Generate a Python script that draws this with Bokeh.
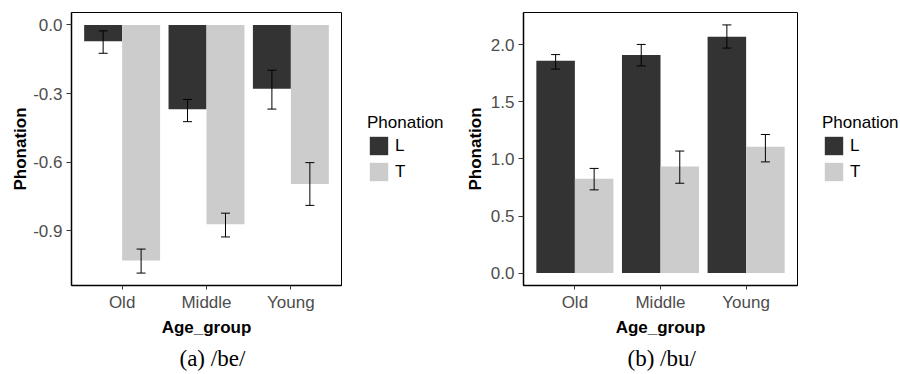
from bokeh.plotting import figure
from bokeh.layouts import row
from bokeh.models import (ColumnDataSource, Whisker, TeeHead, FixedTicker,
                          NumeralTickFormatter, Legend, LegendItem, Title, Range1d)
from bokeh.embed import file_html
from bokeh.resources import INLINE

# ---------------- data ----------------
age_groups = ["Old", "Middle", "Young"]
phonation_levels = ["L", "T"]

# (a) /be/
be_L = [-0.071, -0.369, -0.279]
be_L_upper = [-0.026, -0.326, -0.198]
be_L_lower = [-0.124, -0.423, -0.368]
be_T = [-1.030, -0.872, -0.696]
be_T_upper = [-0.980, -0.823, -0.602]
be_T_lower = [-1.085, -0.927, -0.789]
be_yticks = [0.0, -0.3, -0.6, -0.9]

# (b) /bu/
bu_L = [1.859, 1.911, 2.070]
bu_L_upper = [1.914, 2.003, 2.174]
bu_L_lower = [1.787, 1.815, 1.971]
bu_T = [0.827, 0.934, 1.107]
bu_T_upper = [0.917, 1.069, 1.214]
bu_T_lower = [0.729, 0.787, 0.974]
bu_yticks = [0.0, 0.5, 1.0, 1.5, 2.0]

captions = ["(a) /be/", "(b) /bu/"]

DARK = "#333333"
LIGHT = "#CCCCCC"
SANS = "Liberation Sans"
BAR_W = 0.45
H = 374
TOP = 12
BOTTOM = 86


def make_panel(L, L_up, L_lo, T, T_up, T_lo, yticks, caption,
               width, border_left, border_right, caption_offset, ylabel_standoff):
    lo = min(0.0, min(L_lo), min(T_lo))
    hi = max(0.0, max(L_up), max(T_up))
    pad = 0.05 * (hi - lo)
    n = len(age_groups)
    p = figure(width=width, height=H, output_backend="svg", toolbar_location=None,
               x_range=Range1d(0.4, n + 0.6), y_range=Range1d(lo - pad, hi + pad),
               min_border_left=border_left, min_border_right=border_right,
               min_border_top=TOP, min_border_bottom=BOTTOM)
    p.background_fill_color = "white"
    p.border_fill_color = "white"
    p.outline_line_color = "black"
    p.outline_line_width = 1
    p.outline_line_alpha = 1
    p.xgrid.grid_line_color = None
    p.ygrid.grid_line_color = None

    sources = []
    for vals, up, low, off, col in [(L, L_up, L_lo, -BAR_W / 2, DARK),
                                    (T, T_up, T_lo, BAR_W / 2, LIGHT)]:
        xs = [i + 1 + off for i in range(n)]
        src = ColumnDataSource(dict(x=xs, top=vals, bottom=[0.0] * n,
                                    upper=up, lower=low))
        sources.append((src, col))
        p.vbar(x="x", top="top", bottom="bottom", width=BAR_W, source=src,
               fill_color=col, line_color=None)
        w = Whisker(base="x", upper="upper", lower="lower", source=src,
                    dimension="height", line_color="black", line_width=1,
                    upper_head=TeeHead(size=9, line_color="black", line_width=1),
                    lower_head=TeeHead(size=9, line_color="black", line_width=1))
        w.level = "annotation"
        p.add_layout(w)

    # axes
    p.xaxis.ticker = FixedTicker(ticks=[i + 1 for i in range(n)])
    p.xaxis.major_label_overrides = {i + 1: g for i, g in enumerate(age_groups)}
    p.yaxis.ticker = FixedTicker(ticks=yticks)
    p.yaxis.formatter = NumeralTickFormatter(format="0.0")
    p.xaxis.axis_label = "Age_group"
    p.yaxis.axis_label = "Phonation"
    for ax in (p.xaxis, p.yaxis):
        ax.axis_line_color = "black"
        ax.axis_line_width = 1.5
        ax.major_tick_line_color = "#333333"
        ax.major_tick_in = 0
        ax.minor_tick_in = 0
        ax.minor_tick_out = 0
        ax.major_label_text_font = SANS
        ax.major_label_text_font_size = "17px"
        ax.major_label_text_color = "#4D4D4D"
        ax.axis_label_text_font = SANS
        ax.axis_label_text_font_size = "17px"
        ax.axis_label_text_font_style = "bold"
        ax.axis_label_text_color = "black"
    p.yaxis.major_tick_out = 5
    p.yaxis.major_label_standoff = 4
    p.yaxis.axis_label_standoff = ylabel_standoff
    p.xaxis.major_tick_out = 4
    p.xaxis.major_label_standoff = 3
    p.xaxis.axis_label_standoff = 3

    cap = Title(text=caption, align="left", offset=caption_offset, standoff=8,
                text_font="Liberation Serif", text_font_size="23px",
                text_font_style="normal", text_color="black")
    p.add_layout(cap, "below")
    return p, sources


def make_legend(width, key_x, legend_bottom, sources):
    # separate legend area; its swatches come from the panel's own series sources
    q = figure(width=width, height=H, output_backend="svg", toolbar_location=None,
               x_range=Range1d(-20, -19), y_range=Range1d(-20, -19),
               x_axis_location=None, y_axis_location=None,
               min_border_left=0, min_border_right=0,
               min_border_top=TOP, min_border_bottom=BOTTOM)
    q.outline_line_color = None
    q.xgrid.grid_line_color = None
    q.ygrid.grid_line_color = None
    rs = []
    for src, col in sources:
        rs.append(q.vbar(x="x", top="top", bottom="bottom", width=BAR_W, source=src,
                         fill_color=col, line_color=None))
    legend = Legend(items=[LegendItem(label=lab, renderers=[r], index=0)
                           for lab, r in zip(phonation_levels, rs)],
                    title="Phonation", location=(key_x, legend_bottom))
    legend.title_text_font = SANS
    legend.title_text_font_size = "17px"
    legend.title_text_font_style = "normal"
    legend.title_text_color = "black"
    legend.label_text_font = SANS
    legend.label_text_font_size = "17px"
    legend.label_text_color = "black"
    legend.glyph_width = 23
    legend.glyph_height = 23
    legend.spacing = 3
    legend.padding = 0
    legend.margin = 0
    legend.label_standoff = 5
    legend.title_standoff = 1
    legend.border_line_color = None
    legend.background_fill_alpha = 0
    q.add_layout(legend)
    return q


pa, src_a = make_panel(be_L, be_L_upper, be_L_lower, be_T, be_T_upper, be_T_lower,
                       be_yticks, captions[0], width=360, border_left=71, border_right=19,
                       caption_offset=108, ylabel_standoff=0)
la = make_legend(width=100, key_x=7, legend_bottom=102, sources=src_a)
pb, src_b = make_panel(bu_L, bu_L_upper, bu_L_lower, bu_T, bu_T_upper, bu_T_lower,
                       bu_yticks, captions[1], width=350, border_left=63, border_right=13,
                       caption_offset=104, ylabel_standoff=3)
lb = make_legend(width=90, key_x=12, legend_bottom=102, sources=src_b)

layout = row(pa, la, pb, lb)
open("out.html", "w").write(file_html(layout, INLINE))
